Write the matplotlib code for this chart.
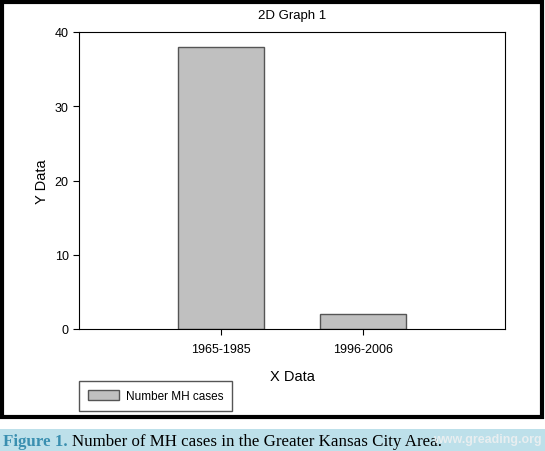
import matplotlib
matplotlib.use('Agg')
import matplotlib.pyplot as plt
from matplotlib.patches import Rectangle, Patch

# data
periods = ['1965-1985', '1996-2006']
cases = [38, 2]
positions = [1, 2]

plt.rcParams['font.family'] = ['Liberation Sans', 'DejaVu Sans']

fig = plt.figure(figsize=(5.45, 4.52), dpi=100)
ax = fig.add_axes([79/545, 122/452, 426/545, 297/452])

ax.bar(positions, cases, width=0.6, color='#c0c0c0', edgecolor='#555555', linewidth=1.0)
ax.set_xlim(0, 3)
ax.set_ylim(0, 40)
ax.set_yticks([0, 10, 20, 30, 40])
ax.set_xticks(positions)
ax.set_xticklabels(periods)
ax.tick_params(labelsize=9, direction='out', length=4, width=0.8, top=False, right=False)
ax.tick_params(axis='x', pad=6)
for s in ax.spines.values():
    s.set_linewidth(0.8)
ax.set_title('2D Graph 1', fontsize=9.5, pad=10)
ax.set_xlabel('X Data', fontsize=10.5, labelpad=10)
ax.set_ylabel('Y Data', fontsize=10.5, labelpad=4)

fig.legend(handles=[Patch(facecolor='#c0c0c0', edgecolor='#555555', label='Number MH cases')],
           loc='lower left', bbox_to_anchor=(79/545, 40/452), borderaxespad=0, fontsize=8.5,
           fancybox=False, edgecolor='#555555', framealpha=1,
           handlelength=2.6, handleheight=0.9, borderpad=0.75, handletextpad=0.6)

# outer frame
fig.add_artist(Rectangle((2/545, 34/452), 540/545, 415/452, transform=fig.transFigure,
                         fill=False, edgecolor='black', linewidth=3))
# caption bar
fig.add_artist(Rectangle((0, 0), 1, 22/452, transform=fig.transFigure,
                         facecolor='#bde0ea', edgecolor='none'))
fig.text(3/545, 10/452, 'Figure 1.', fontsize=12.2, family='Liberation Serif',
         color='#3a8fb0', fontweight='bold', va='center')
fig.text(72/545, 10/452, 'Number of MH cases in the Greater Kansas City Area.',
         fontsize=12.2, family='Liberation Serif', color='black', va='center')
fig.text(542/545, 12/452, 'www.greading.org', fontsize=9, color='#e8eef0',
         fontweight='bold', ha='right', va='center')

fig.savefig('out.png', dpi=100)
